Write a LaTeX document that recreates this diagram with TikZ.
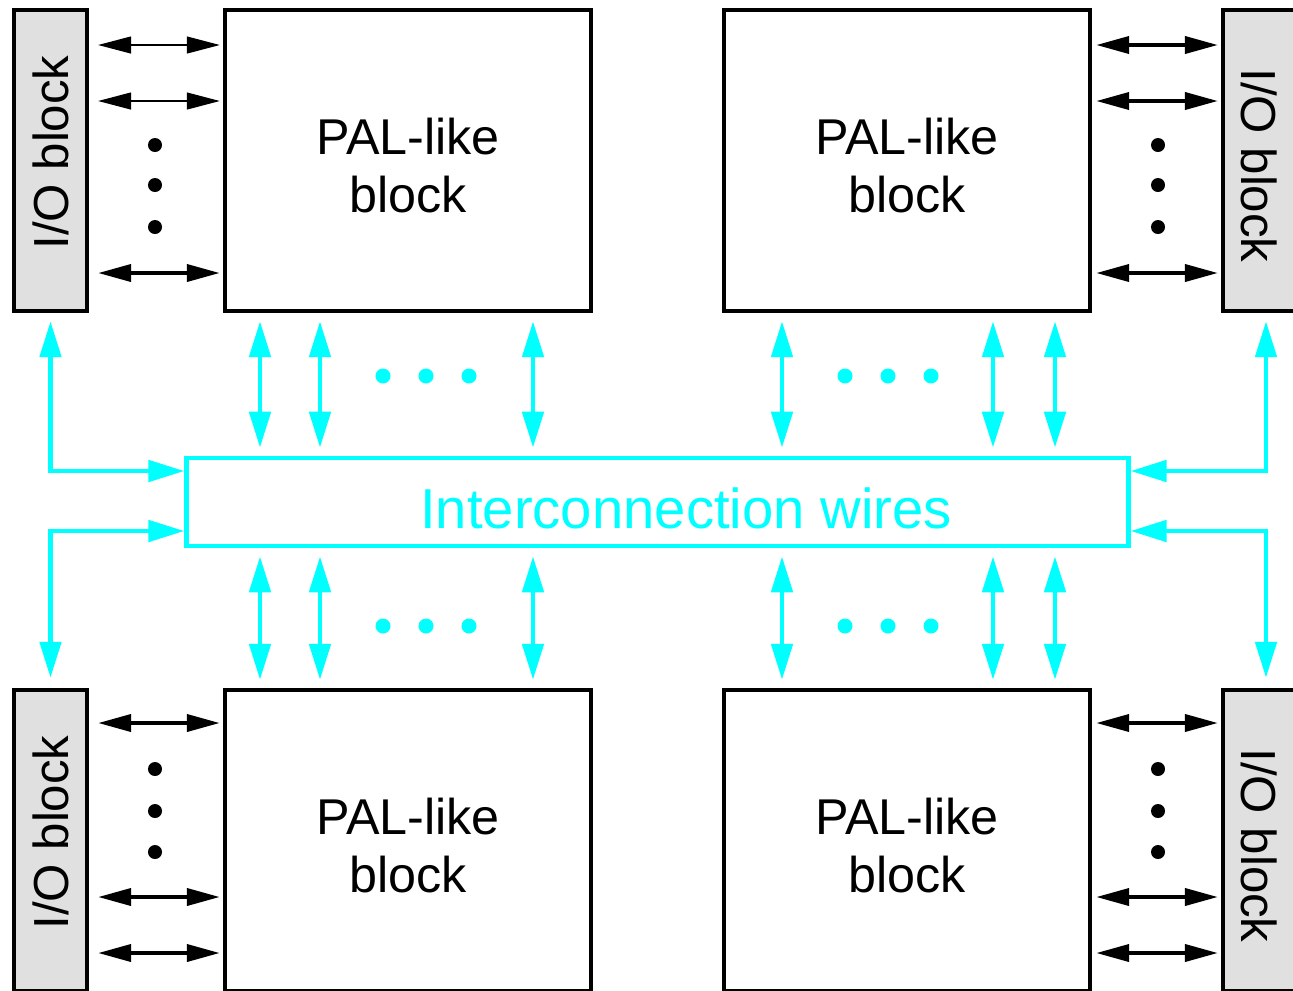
\documentclass[tikz,border=0pt]{standalone}
\usepackage{fontspec}
\setmainfont{Liberation Sans}
\usetikzlibrary{arrows.meta}
\definecolor{iogray}{RGB}{224,224,224}
\definecolor{wirecyan}{RGB}{0,255,255}

\begin{document}
\begin{tikzpicture}[x=0.01cm, y=-0.01cm]
    \tikzstyle{every node}=[align=center];
    \tikzstyle{pal} = [draw, line width=1.2pt, inner sep=0pt, minimum width=3.66cm, minimum height=3.01cm, font=\fontsize{14.3}{16.5}\selectfont]
    \tikzstyle{io} = [draw, line width=1.2pt, fill=iogray, inner sep=0pt, minimum width=0.73cm, minimum height=3.01cm, font=\fontsize{14}{16}\selectfont]
    \tikzstyle{wires} = [draw=wirecyan, line width=1.3pt, inner sep=0pt, minimum width=9.41cm, minimum height=0.88cm]
    \tikzstyle{link} = [{Triangle[length=0.33cm,width=0.17cm]}-{Triangle[length=0.33cm,width=0.17cm]}, line width=1.1pt, shorten <=0.04cm, shorten >=0.03cm]
    \tikzstyle{thinlink} = [link, line width=0.35pt]
    \tikzstyle{bus} = [{Triangle[length=0.36cm,width=0.21cm]}-{Triangle[length=0.36cm,width=0.21cm]}, wirecyan, line width=1.4pt, shorten <=0.08cm, shorten >=0.08cm]

    \useasboundingbox (0,0) rectangle (1293,990);

    \node[io] (IOtl) at (50.5,160.5) {\rotatebox{90}{\hspace{0.16cm}I/O block}};
    \node[pal] (PALtl) at (408,160.5) {\rule{0pt}{0.47cm}PAL-like\\block};
    \node[pal] (PALtr) at (907,160.5) {\rule{0pt}{0.47cm}PAL-like\\block};
    \node[io] (IOtr) at (1259.5,160.5) {\rotatebox{-90}{\hspace{0.1cm}I/O block}};
    \node[io] (IObl) at (50.5,840.5) {\rotatebox{90}{\hspace{0.16cm}I/O block}};
    \node[pal] (PALbl) at (408,840.5) {\rule{0pt}{0.47cm}PAL-like\\block};
    \node[pal] (PALbr) at (907,840.5) {\rule{0pt}{0.47cm}PAL-like\\block};
    \node[io] (IObr) at (1259.5,840.5) {\rotatebox{-90}{\hspace{0.1cm}I/O block}};
    \node[wires] (wires) at (657.5,502) {};
    \node[text=wirecyan, font=\fontsize{16}{19}\selectfont] (wiresLabel) at (686,508) {Interconnection wires};

    % I/O lines
    \draw[thinlink, shorten <=0.09cm] (IOtl.east |- 0,45) -- (PALtl.west |- 0,45);
    \draw[thinlink, shorten <=0.09cm] (IOtl.east |- 0,101) -- (PALtl.west |- 0,101);
    \draw[link, shorten <=0.09cm] (IOtl.east |- 0,273) -- (PALtl.west |- 0,273);
    \draw[link] (PALtr.east |- 0,45) -- (IOtr.west |- 0,45);
    \draw[link] (PALtr.east |- 0,101) -- (IOtr.west |- 0,101);
    \draw[link] (PALtr.east |- 0,273) -- (IOtr.west |- 0,273);
    \draw[link, shorten <=0.09cm] (IObl.east |- 0,723) -- (PALbl.west |- 0,723);
    \draw[link, shorten <=0.09cm] (IObl.east |- 0,897) -- (PALbl.west |- 0,897);
    \draw[link, shorten <=0.09cm] (IObl.east |- 0,953) -- (PALbl.west |- 0,953);
    \draw[link] (PALbr.east |- 0,723) -- (IObr.west |- 0,723);
    \draw[link] (PALbr.east |- 0,897) -- (IObr.west |- 0,897);
    \draw[link] (PALbr.east |- 0,953) -- (IObr.west |- 0,953);

    \fill (155,145) circle[radius=0.07cm] (155,185) circle[radius=0.07cm] (155,227) circle[radius=0.07cm];
    \fill (1158,145) circle[radius=0.07cm] (1158,185) circle[radius=0.07cm] (1158,227) circle[radius=0.07cm];
    \fill (155,769) circle[radius=0.07cm] (155,811) circle[radius=0.07cm] (155,852) circle[radius=0.07cm];
    \fill (1158,769) circle[radius=0.07cm] (1158,811) circle[radius=0.07cm] (1158,852) circle[radius=0.07cm];

    % wires to the blocks
    \draw[bus] (PALtl.south -| 260,0) -- (wires.north -| 260,0);
    \draw[bus] (PALtl.south -| 320,0) -- (wires.north -| 320,0);
    \draw[bus] (PALtl.south -| 533,0) -- (wires.north -| 533,0);
    \draw[bus] (PALtr.south -| 782,0) -- (wires.north -| 782,0);
    \draw[bus] (PALtr.south -| 993,0) -- (wires.north -| 993,0);
    \draw[bus] (PALtr.south -| 1055,0) -- (wires.north -| 1055,0);
    \draw[bus] (wires.south -| 260,0) -- (PALbl.north -| 260,0);
    \draw[bus] (wires.south -| 320,0) -- (PALbl.north -| 320,0);
    \draw[bus] (wires.south -| 533,0) -- (PALbl.north -| 533,0);
    \draw[bus] (wires.south -| 782,0) -- (PALbr.north -| 782,0);
    \draw[bus] (wires.south -| 993,0) -- (PALbr.north -| 993,0);
    \draw[bus] (wires.south -| 1055,0) -- (PALbr.north -| 1055,0);

    \draw[bus, shorten >=0pt] (IOtl.south) |- (wires.west |- 0,471);
    \draw[bus, shorten <=0pt, shorten >=0.1cm] (wires.west |- 0,531) -| (IObl.north);
    \draw[bus, shorten >=0pt] (IOtr.south -| 1266,0) |- (wires.east |- 0,471);
    \draw[bus, shorten <=0pt, shorten >=0.1cm] (wires.east |- 0,531) -| (IObr.north -| 1266,0);

    \fill[wirecyan] (383,376) circle[radius=0.075cm] (426,376) circle[radius=0.075cm] (469,376) circle[radius=0.075cm];
    \fill[wirecyan] (845,376) circle[radius=0.075cm] (888,376) circle[radius=0.075cm] (931,376) circle[radius=0.075cm];
    \fill[wirecyan] (383,626) circle[radius=0.075cm] (426,626) circle[radius=0.075cm] (469,626) circle[radius=0.075cm];
    \fill[wirecyan] (845,626) circle[radius=0.075cm] (888,626) circle[radius=0.075cm] (931,626) circle[radius=0.075cm];

\end{tikzpicture}
\end{document}
